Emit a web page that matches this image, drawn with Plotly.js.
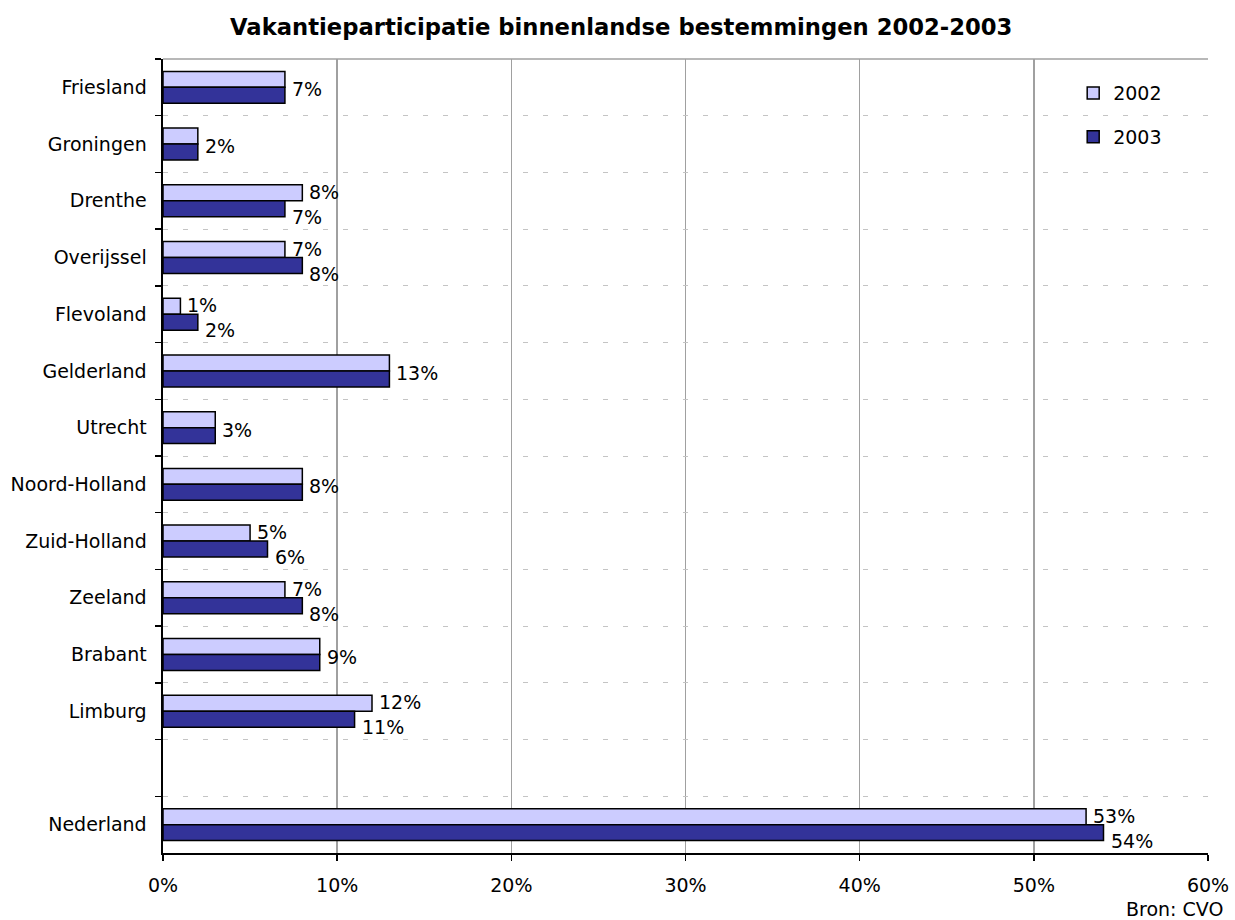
<!DOCTYPE html>
<html>
<head>
<meta charset="utf-8">
<script src="https://cdn.plot.ly/plotly-3.0.1.min.js"></script>
<style>
  html, body { margin: 0; padding: 0; background: #fff; }
  #chart { width: 1235px; height: 920px; }
</style>
</head>
<body>
<div id="chart"></div>
<script>
// ---- data ----
var categories = ["Friesland", "Groningen", "Drenthe", "Overijssel", "Flevoland", "Gelderland",
  "Utrecht", "Noord-Holland", "Zuid-Holland", "Zeeland", "Brabant", "Limburg", " ", "Nederland"];
var values2002 = [0.07, 0.02, 0.08, 0.07, 0.01, 0.13, 0.03, 0.08, 0.05, 0.07, 0.09, 0.12, null, 0.53];
var values2003 = [0.07, 0.02, 0.07, 0.08, 0.02, 0.13, 0.03, 0.08, 0.06, 0.08, 0.09, 0.11, null, 0.54];
var seriesNames = ["2002", "2003"];
var xTickVals = [0, 0.1, 0.2, 0.3, 0.4, 0.5, 0.6];
var xTickText = ["0%", "10%", "20%", "30%", "40%", "50%", "60%"];
var titleText = "Vakantieparticipatie binnenlandse bestemmingen 2002-2003";
var sourceText = "Bron: CVO";

var FONT = "DejaVu Sans, Verdana, sans-serif";

var traces = [
  {
    type: "bar", orientation: "h", name: seriesNames[0], legendgroup: "a",
    y: categories, x: values2002,
    marker: { color: "#CCCCFF", line: { color: "#000000", width: 1.5 } },
    hoverinfo: "x+y"
  },
  {
    type: "bar", orientation: "h", name: seriesNames[1], legendgroup: "b",
    y: categories, x: values2003,
    marker: { color: "#333399", line: { color: "#000000", width: 1.5 } },
    hoverinfo: "x+y"
  }
];

// value labels built from the data
var annotations = [];
function pct(v) { return Math.round(v * 100) + "%"; }
for (var i = 0; i < categories.length; i++) {
  var a = values2002[i], b = values2003[i];
  if (a === null || b === null) continue;
  if (Math.abs(a - b) < 1e-9) {
    annotations.push({ x: b, y: categories[i], xref: "x", yref: "y", text: pct(b),
      showarrow: false, xanchor: "left", yanchor: "middle", xshift: 5, yshift: -2,
      font: { family: FONT, size: 19, color: "#000" } });
  } else {
    annotations.push({ x: a, y: categories[i], xref: "x", yref: "y", text: pct(a),
      showarrow: false, xanchor: "left", yanchor: "middle", xshift: 5, yshift: 9,
      font: { family: FONT, size: 19, color: "#000" } });
    annotations.push({ x: b, y: categories[i], xref: "x", yref: "y", text: pct(b),
      showarrow: false, xanchor: "left", yanchor: "middle", xshift: 5, yshift: -16,
      font: { family: FONT, size: 19, color: "#000" } });
  }
}
annotations.push({ x: 1.0163, y: -0.07, xref: "paper", yref: "paper", text: sourceText,
  showarrow: false, xanchor: "right", yanchor: "middle",
  font: { family: FONT, size: 19, color: "#000" } });

var layout = {
  width: 1235, height: 920,
  paper_bgcolor: "#ffffff", plot_bgcolor: "#ffffff",
  margin: { l: 163, r: 27, t: 58.6, b: 66.6, pad: 0 },
  font: { family: FONT, size: 19, color: "#000" },
  title: {
    text: "<b>" + titleText + "</b>",
    xref: "container", x: 0.503, xanchor: "center",
    yref: "container", y: 0.9707, yanchor: "middle",
    font: { family: FONT, size: 22.7, color: "#000" }
  },
  barmode: "group",
  bargap: 0.437,
  bargroupgap: 0,
  showlegend: true,
  legend: {
    x: 0.871, y: 0.981, xanchor: "left", yanchor: "top",
    traceorder: "grouped", tracegroupgap: 16,
    bgcolor: "rgba(0,0,0,0)", borderwidth: 0,
    font: { family: FONT, size: 19, color: "#000" }
  },
  xaxis: {
    range: [0, 0.6],
    tickvals: xTickVals, ticktext: xTickText,
    showgrid: true, gridcolor: "#a0a0a0", gridwidth: 1.5,
    zeroline: false,
    showline: true, linecolor: "#000", linewidth: 2,
    ticks: "outside", ticklen: 6, tickcolor: "#000", tickwidth: 1.5,
    ticklabelstandoff: 8,
    tickfont: { family: FONT, size: 19, color: "#000" },
    fixedrange: true
  },
  yaxis: {
    type: "category",
    categoryorder: "array", categoryarray: categories,
    range: [13.5, -0.5],
    tickson: "boundaries",
    showgrid: true, gridcolor: "#c4c4c4", gridwidth: 1, griddash: "5px,15px",
    zeroline: false,
    showline: true, linecolor: "#000", linewidth: 2.5,
    ticks: "outside", ticklen: 6, tickcolor: "#000", tickwidth: 1.5,
    ticklabelstandoff: 10,
    tickfont: { family: FONT, size: 19, color: "#000" },
    fixedrange: true
  },
  shapes: [
    { type: "line", xref: "paper", yref: "paper", x0: 0, x1: 1, y0: 1, y1: 1,
      line: { color: "#a0a0a0", width: 1.5 } }
  ],
  annotations: annotations
};

Plotly.newPlot("chart", traces, layout, { displayModeBar: false, staticPlot: true });
</script>
</body>
</html>
